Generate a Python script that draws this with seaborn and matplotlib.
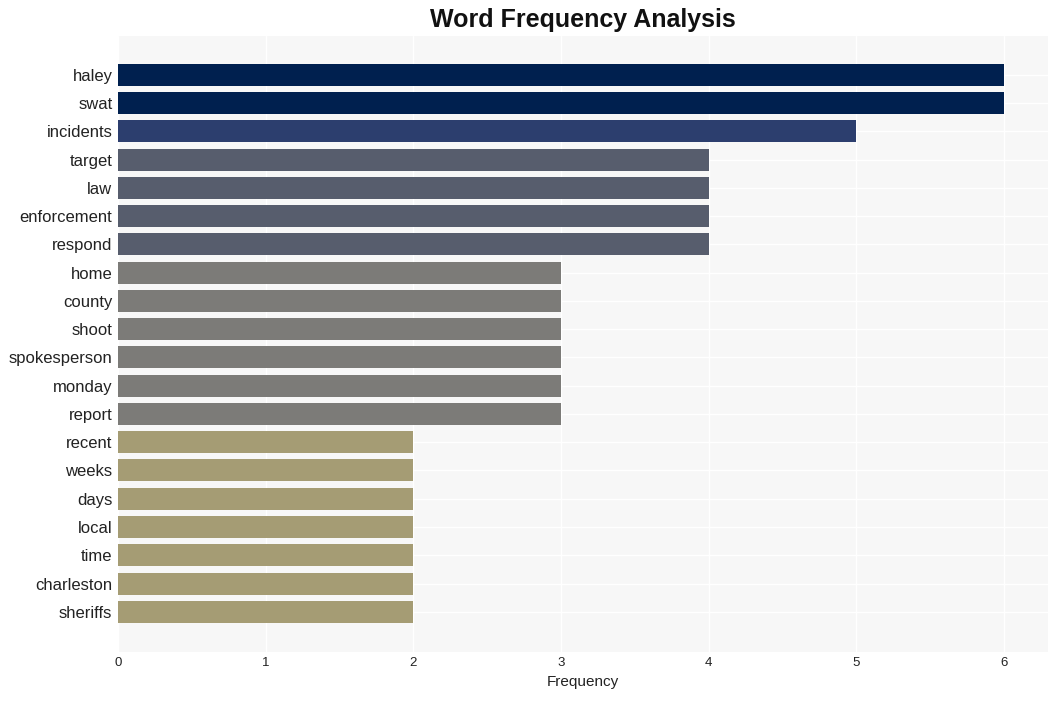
import pandas as pd
import matplotlib.pyplot as plt
import seaborn as sns

# Datos
words = ["haley", "swat", "incidents", "target", "law", "enforcement", "respond",
         "home", "county", "shoot", "spokesperson", "monday", "report",
         "recent", "weeks", "days", "local", "time", "charleston", "sheriffs"]
freqs = [6, 6, 5, 4, 4, 4, 4, 3, 3, 3, 3, 3, 3, 2, 2, 2, 2, 2, 2, 2]

# Color por frecuencia
level_colors = {6: "#00204f", 5: "#2c3e6e", 4: "#575d6d", 3: "#7c7b78", 2: "#a59c74"}

df = pd.DataFrame({"word": words, "freq": freqs})

sns.set_style("whitegrid")
plt.rcParams["font.family"] = ["Liberation Sans", "DejaVu Sans"]

fig, ax = plt.subplots(figsize=(10.58, 7.01), dpi=100)
ax.set_facecolor("#f7f7f7")

sns.barplot(data=df, y="word", x="freq", hue="freq", palette=level_colors,
            dodge=False, legend=False, width=0.78, saturation=1,
            linewidth=0, ax=ax)

ax.grid(True, color="white", linewidth=1)
for s in ax.spines.values():
    s.set_visible(False)

ax.set_xlim(0, 6.3)
ax.set_ylim(len(words) - 1 + 1.42, -1.38)
ax.set_title("Word Frequency Analysis", fontsize=18, fontweight="bold", pad=6,
             color="#111111")
ax.set_xlabel("Frequency", fontsize=11, labelpad=4, color="#222222")
ax.set_ylabel("")
ax.tick_params(axis="y", labelsize=12, length=0, pad=4, labelcolor="#222222")
ax.tick_params(axis="x", labelsize=9.5, length=0, pad=4, labelcolor="#222222")

plt.subplots_adjust(left=0.1115, right=0.991, top=0.949, bottom=0.07)
plt.savefig("out.png", dpi=100)
